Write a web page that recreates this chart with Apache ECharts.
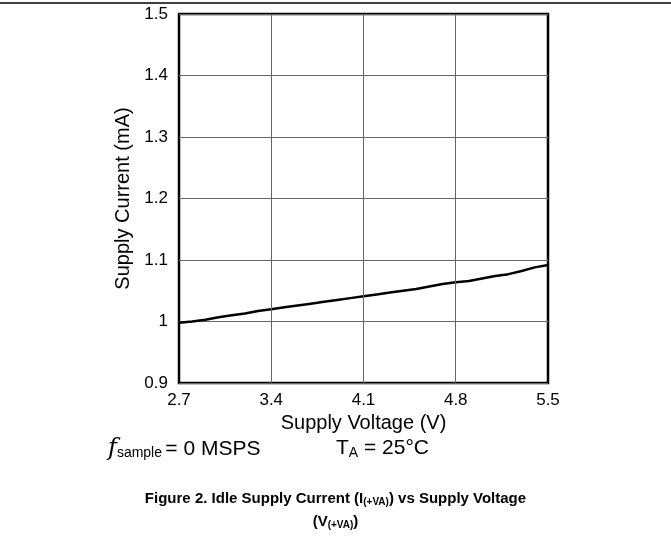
<!DOCTYPE html>
<html><head><meta charset="utf-8">
<script src="https://cdn.jsdelivr.net/npm/echarts@6/dist/echarts.min.js"></script>
<style>html,body{margin:0;padding:0;background:#fff}#c{width:671px;height:540px}</style>
</head><body><div id="c"></div>
<script>
const voltage = [2.7,2.8,2.9,3.0,3.1,3.2,3.3,3.4,3.5,3.6,3.7,3.8,3.9,4.0,4.1,4.2,4.3,4.4,4.5,4.6,4.7,4.8,4.9,5.0,5.1,5.2,5.3,5.4,5.5];
const current = [0.998,1.000,1.003,1.007,1.010,1.013,1.017,1.020,1.023,1.026,1.029,1.032,1.035,1.038,1.041,1.044,1.047,1.050,1.053,1.057,1.061,1.064,1.066,1.070,1.074,1.077,1.082,1.088,1.092];
const xTicks = [2.7,3.4,4.1,4.8,5.5];
const xGridLines = [3.4,4.1,4.8];

const font = 'Liberation Sans, Arial, sans-serif';
const chart = echarts.init(document.getElementById('c'), null, {renderer:'canvas'});
chart.setOption({
  animation:false,
  grid:{left:179,right:123,top:14,bottom:157,show:true,borderColor:'#000',borderWidth:2.5,backgroundColor:'transparent'},
  xAxis:{type:'value',min:2.7,max:5.5,
    name:'Supply Voltage (V)',nameLocation:'middle',nameGap:20,
    nameTextStyle:{fontFamily:font,fontSize:20,color:'#000'},
    axisLine:{show:false},axisTick:{show:false,customValues:xTicks},splitLine:{show:false},
    axisLabel:{customValues:xTicks,fontFamily:font,fontSize:17,color:'#000',margin:9}},
  yAxis:{type:'value',min:0.9,max:1.5,interval:0.1,
    name:'Supply Current (mA)',nameLocation:'middle',nameGap:39,nameRotate:90,
    nameTextStyle:{fontFamily:font,fontSize:20,color:'#000'},
    axisLine:{show:false},axisTick:{show:false},
    splitLine:{show:true,lineStyle:{color:'#666',width:1}},
    axisLabel:{fontFamily:font,fontSize:17,color:'#000',margin:11,
      formatter:v=>String(Math.round(v*10)/10)}},
  series:[{type:'line',data:voltage.map((v,i)=>[v,current[i]]),showSymbol:false,smooth:false,
    lineStyle:{color:'#000',width:2.5},
    markLine:{silent:true,symbol:'none',label:{show:false},lineStyle:{color:'#666',width:1,type:'solid'},
      data:xGridLines.map(x=>({xAxis:x}))}}],
  graphic:[
    {type:'line',shape:{x1:0,y1:3,x2:671,y2:3},style:{stroke:'#000',lineWidth:1.5}},
    {type:'text',left:108,top:437,style:{
      text:'{f|f}{s|sample} {n|= 0 MSPS}',
      rich:{f:{fontFamily:'DejaVu Serif, serif',fontStyle:'italic',fontSize:24,fill:'#000'},
            s:{fontFamily:font,fontSize:14,fill:'#000',padding:[9,0,0,0]},
            n:{fontFamily:font,fontSize:21,fill:'#000'}}}},
    {type:'text',left:336,top:438,style:{
      text:'{n|T}{s|A}{n| = 25°C}',
      rich:{n:{fontFamily:font,fontSize:21,fill:'#000'},
            s:{fontFamily:font,fontSize:14,fill:'#000',padding:[9,0,0,0]}}}},
    {type:'text',left:'center',top:491,style:{
      text:'{b|Figure 2. Idle Supply Current (I}{s|(+VA)}{b|) vs Supply Voltage}',
      rich:{b:{fontFamily:font,fontWeight:'bold',fontSize:15,fill:'#000'},
            s:{fontFamily:font,fontWeight:'bold',fontSize:10,fill:'#000',padding:[7,0,0,0]}}}},
    {type:'text',left:'center',top:514,style:{
      text:'{b|(V}{s|(+VA)}{b|)}',
      rich:{b:{fontFamily:font,fontWeight:'bold',fontSize:15,fill:'#000'},
            s:{fontFamily:font,fontWeight:'bold',fontSize:10,fill:'#000',padding:[7,0,0,0]}}}}
  ]
});
</script></body></html>
